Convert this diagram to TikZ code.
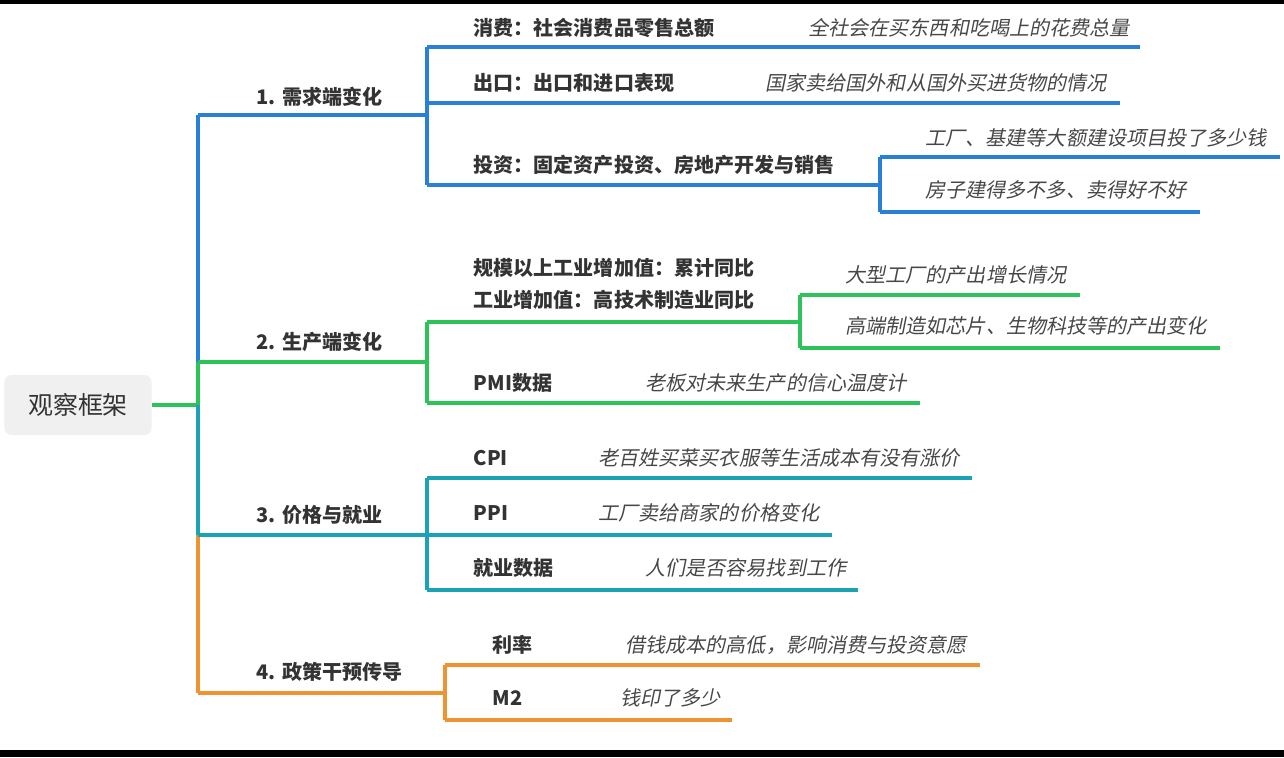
\documentclass[tikz,border=0pt]{standalone}
\usepackage{fontspec}
\setmainfont{Noto Sans CJK SC}
\newfontfamily\descfont{Noto Sans CJK SC}[FakeSlant=0.2]
\definecolor{cblue}{HTML}{2A7FD6}
\definecolor{cgreen}{HTML}{2DC25A}
\definecolor{cteal}{HTML}{1BA3B5}
\definecolor{corange}{HTML}{EF9330}
\definecolor{ctext}{HTML}{333333}
\tikzset{
  br/.style={line width=1.2pt},
  lab/.style={anchor=west,inner sep=0,text=ctext,font=\fontsize{5.7pt}{6pt}\selectfont\bfseries},
  desc/.style={anchor=west,inner sep=0,text=ctext!90,font=\fontsize{5.7pt}{6pt}\selectfont\descfont},
}
\begin{document}
\begin{tikzpicture}[x=0.01cm,y=-0.01cm]
\useasboundingbox (0,0) rectangle (1284,757);
\fill[black] (0,0) rectangle (1284,4);
\fill[black] (0,750) rectangle (1284,757);
% root
\node[fill=gray!12,rounded corners=2pt,minimum width=1.47cm,minimum height=0.6cm,
  font=\fontsize{7.1pt}{8pt}\selectfont,text=ctext] (root) at (78,405) {观察框架};
\coordinate (t1) at (198,115);
\coordinate (t2) at (198,362);
\coordinate (t0) at (198,405);
\coordinate (t3) at (198,535);
\coordinate (t4) at (198,693);
\draw[br,cgreen] (root.east) -- (t0);
\draw[br,cblue] (t1) -- (t2);
\draw[br,cgreen] (t2) -- (t0);
\draw[br,cteal] (t0) -- (t3);
\draw[br,corange] (t3) -- (t4);
% 1. demand
\node[lab] (b1) at (256,97) {1. 需求端变化};
\coordinate (b1e) at (427,115);
\draw[br,cblue] (t1) -- (b1e);
\coordinate (c11) at (427,47);
\coordinate (c13) at (427,185);
\draw[br,cblue] (c11) -- (c13);
\node[lab] (n11) at (473,28) {消费：社会消费品零售总额};
\node[desc] (d11) at (808,28) {全社会在买东西和吃喝上的花费总量};
\draw[br,cblue] (c11) -- (1140,47);
\node[lab] (n12) at (473,83) {出口：出口和进口表现};
\node[desc] (d12) at (765,83) {国家卖给国外和从国外买进货物的情况};
\draw[br,cblue] (427,103) -- (1120,103);
\node[lab] (n13) at (473,165) {投资：固定资产投资、房地产开发与销售};
\coordinate (c13e) at (880,185);
\draw[br,cblue] (c13) -- (c13e);
\draw[br,cblue] (880,157) -- (880,212);
\node[desc] (d131) at (925,138) {工厂、基建等大额建设项目投了多少钱};
\draw[br,cblue] (880,157) -- (1280,157);
\node[desc] (d132) at (925,190) {房子建得多不多、卖得好不好};
\draw[br,cblue] (880,212) -- (1200,212);
% 2. production
\node[lab] (b2) at (256,342) {2. 生产端变化};
\coordinate (b2e) at (427,362);
\draw[br,cgreen] (t2) -- (b2e);
\draw[br,cgreen] (427,322) -- (427,403);
\node[lab] (n21) at (473,268) {规模以上工业增加值：累计同比};
\node[lab] (n21b) at (473,300) {工业增加值：高技术制造业同比};
\draw[br,cgreen] (427,322) -- (800,322);
\draw[br,cgreen] (800,295) -- (800,348);
\node[desc] (d211) at (845,275) {大型工厂的产出增长情况};
\draw[br,cgreen] (800,295) -- (1080,295);
\node[desc] (d212) at (845,326) {高端制造如芯片、生物科技等的产出变化};
\draw[br,cgreen] (800,348) -- (1220,348);
\node[lab] (n22) at (473,383) {PMI数据};
\node[desc] (d22) at (645,383) {老板对未来生产的信心温度计};
\draw[br,cgreen] (427,403) -- (920,403);
% 3. prices and jobs
\node[lab] (b3) at (256,515) {3. 价格与就业};
\draw[br,cteal] (t3) -- (427,535);
\draw[br,cteal] (427,478) -- (427,590);
\node[lab] (n31) at (473,458) {CPI};
\node[desc] (d31) at (598,458) {老百姓买菜买衣服等生活成本有没有涨价};
\draw[br,cteal] (427,478) -- (972,478);
\node[lab] (n32) at (473,513) {PPI};
\node[desc] (d32) at (598,513) {工厂卖给商家的价格变化};
\draw[br,cteal] (427,535) -- (832,535);
\node[lab] (n33) at (473,568) {就业数据};
\node[desc] (d33) at (645,568) {人们是否容易找到工作};
\draw[br,cteal] (427,590) -- (858,590);
% 4. policy
\node[lab] (b4) at (256,672) {4. 政策干预传导};
\draw[br,corange] (t4) -- (445,693);
\draw[br,corange] (445,665) -- (445,720);
\node[lab] (n41) at (492,645) {利率};
\node[desc] (d41) at (625,645) {借钱成本的高低，影响消费与投资意愿};
\draw[br,corange] (445,665) -- (980,665);
\node[lab] (n42) at (492,698) {M2};
\node[desc] (d42) at (620,698) {钱印了多少};
\draw[br,corange] (445,720) -- (732,720);
\end{tikzpicture}
\end{document}
